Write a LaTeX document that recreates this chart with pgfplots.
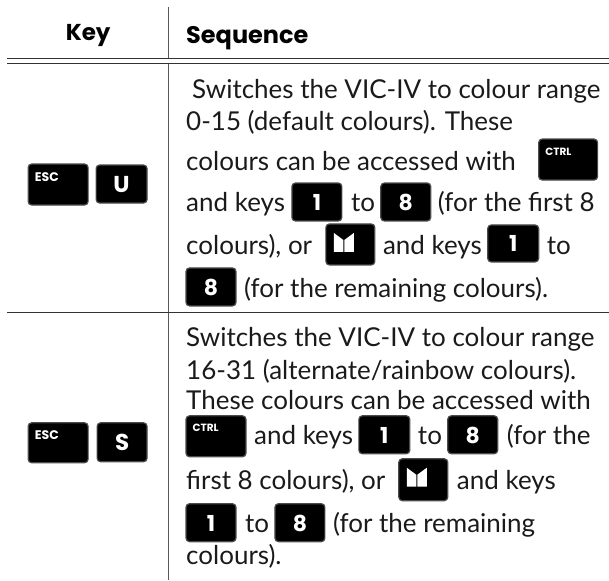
\documentclass[border=0pt]{standalone}
\usepackage{pgfplots}
\pgfplotsset{compat=1.18}
\usepackage{fontspec}
\setmainfont{Lato}
\newfontfamily\keyfont{Poppins}
\definecolor{tx}{HTML}{1A1A1A}
\newcommand\T[3]{\node[anchor=base west,inner sep=0pt,text=tx] at (axis cs:#1,#2) {\fontsize{26}{30}\selectfont #3};}
\newcommand\K[6]{% x0 y0 x1 y1 label size
  \draw[fill=black,draw=black!70,line width=1.2pt,rounded corners=3.5pt] (axis cs:#1,#2) rectangle (axis cs:#3,#4);
  \node[text=white,inner sep=0pt,font=\keyfont\bfseries\fontsize{#6}{#6}\selectfont] at (axis cs:{(#1+#3)/2},{(#2+#4)/2+0.5}) {#5};}
\newcommand\Ks[7]{% x0 y0 x1 y1 label size baseline
  \draw[fill=black,draw=black!70,line width=1.2pt,rounded corners=3.5pt] (axis cs:#1,#2) rectangle (axis cs:#3,#4);
  \node[anchor=base west,text=white,inner sep=0pt,font=\keyfont\bfseries\fontsize{#6}{#6}\selectfont] at (axis cs:#1+6.5,#7) {#5};}
\newcommand\Km[4]{% x0 y0 x1 y1
  \draw[fill=black,draw=black!70,line width=1.2pt,rounded corners=3.5pt] (axis cs:#1,#2) rectangle (axis cs:#3,#4);
  \fill[white] (axis cs:#1+8,#2+9) -- (axis cs:#1+17.5,#2+16) -- (axis cs:#1+17.5,#2+28) -- (axis cs:#1+8,#2+28) -- cycle;
  \fill[white] (axis cs:#1+28,#2+9) -- (axis cs:#1+18.5,#2+16) -- (axis cs:#1+18.5,#2+28) -- (axis cs:#1+28,#2+28) -- cycle;}
\begin{document}
\begin{tikzpicture}
\begin{axis}[hide axis,scale only axis,width=609pt,height=580pt,xmin=0,xmax=609,ymin=0,ymax=580,y dir=reverse,clip=false]
\addplot[draw=white,forget plot] coordinates {(0,0) (609,580)};
\addplot[draw=black!65,line width=1pt] coordinates {(168.8,7) (168.8,58)};
\addplot[draw=black!65,line width=1pt] coordinates {(168.8,64) (168.8,580)};
\addplot[draw=black!80,line width=0.8pt] coordinates {(7,58) (609,58)};
\addplot[draw=black!80,line width=0.8pt] coordinates {(7,63.5) (609,63.5)};
\addplot[draw=black!80,line width=0.8pt] coordinates {(7,313) (609,313)};
\node[anchor=base,inner sep=0pt,font=\keyfont\bfseries\fontsize{23}{26}\selectfont] at (axis cs:88,40) {Key};
\node[anchor=base west,inner sep=0pt,font=\keyfont\bfseries\fontsize{24}{26}\selectfont] at (axis cs:186,43.5) {Sequence};
\T{192}{98}{Switches the VIC-IV to colour range}
\T{186}{130}{0-15 (default colours). These}
\T{186}{170}{colours can be accessed with}
\T{186}{212}{and keys}
\T{351}{212}{to}
\T{438}{212}{(for the first 8}
\T{186}{255}{colours), or}
\T{383}{255}{and keys}
\T{547}{255}{to}
\T{244}{298}{(for the remaining colours).}
\T{186}{347}{Switches the VIC-IV to colour range}
\T{186}{380}{16-31 (alternate/rainbow colours).}
\T{186}{410}{These colours can be accessed with}
\T{254}{445}{and keys}
\T{418}{445}{to}
\T{507}{445}{(for the}
\T{186}{490}{first 8 colours), or}
\T{457}{490}{and keys}
\T{245}{533}{to}
\T{333}{533}{(for the remaining}
\T{186}{565}{colours).}
\Ks{28}{164}{88}{205}{ESC}{12.5}{181}
\K{96}{165}{147}{203}{U}{23}
\Ks{28}{423}{88}{463}{ESC}{12.5}{440}
\K{97}{423}{147}{462}{S}{23}
\Ks{539}{139}{598}{180}{CTRL}{10.5}{155}
\Ks{186}{416}{246}{457}{CTRL}{10.5}{432}
\K{292}{183}{342}{221}{1}{22}
\K{381}{183}{431}{221}{8}{22}
\Km{326}{224}{375}{265}
\K{488}{225}{539}{262}{1}{22}
\K{186}{268}{236}{306}{8}{22}
\K{359}{416}{410}{454}{1}{22}
\K{448}{416}{498}{454}{8}{22}
\Km{399}{459}{448}{501}
\K{186}{504}{236}{542}{1}{22}
\K{275}{504}{325}{542}{8}{22}
\end{axis}
\end{tikzpicture}
\end{document}
